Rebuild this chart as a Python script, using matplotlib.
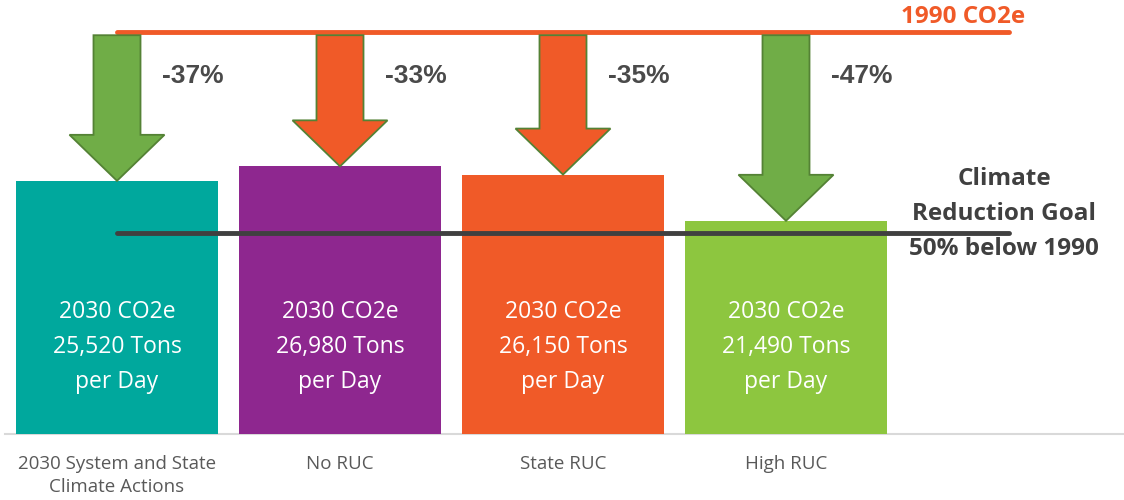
import matplotlib.pyplot as plt
from matplotlib.patches import Polygon

categories = ['2030 System and State\nClimate Actions', 'No RUC', 'State RUC', 'High RUC']
values = [25520, 26980, 26150, 21490]
bar_colors = ['#00A89D', '#8E278F', '#F05A28', '#8DC63F']
arrow_colors = ['#70AD47', '#F05A28', '#F05A28', '#70AD47']
base_1990 = 40500
goal = base_1990 * 0.5

fig = plt.figure(figsize=(11.24, 5), dpi=100)
ax = fig.add_axes([0, 0, 1, 1])
# 1 px in data units
px_x = 1 / 223
px_y = 100.8
ax.set_xlim(-117 * px_x, (1124 - 117) * px_x)
ax.set_ylim(-66 * px_y, 434 * px_y)
ax.axis('off')

x = list(range(len(categories)))
ax.bar(x, values, width=202 * px_x, color=bar_colors, zorder=2)

# baseline
ax.plot([-112 * px_x, 1124 * px_x], [0, 0], color='#d9d9d9', lw=1.5, zorder=1)

# 1990 line and goal line
ax.plot([0, 4], [base_1990, base_1990], color='#F05A28', lw=3.5, solid_capstyle='round', zorder=3)
ax.plot([0, 4], [goal, goal], color='#404040', lw=3.5, solid_capstyle='round', zorder=3)
ax.text(1025 * px_x - 117 * px_x, base_1990 + 15 * px_y, '1990 CO2e', color='#F05A28',
        fontsize=17.5, fontweight='bold', family='Open Sans', ha='right', va='center')
ax.text(1004 * px_x - 117 * px_x, goal + 19 * px_y, 'Climate\nReduction Goal\n50% below 1990',
        color='#404040', fontsize=17.5, fontweight='bold', family='Open Sans',
        ha='center', va='center', linespacing=1.6)

# arrows from 1990 level down to each bar
sw = 23.5 * px_x
hw = 47.5 * px_x
hl = 46 * px_y
for i, v in enumerate(values):
    top = base_1990 - 3 * px_y
    pts = [(i - sw, top), (i + sw, top), (i + sw, v + hl), (i + hw, v + hl),
           (i, v), (i - hw, v + hl), (i - sw, v + hl)]
    ax.add_patch(Polygon(pts, closed=True, facecolor=arrow_colors[i], edgecolor='#548235',
                         lw=1.3, zorder=4))
    pct = round((v - base_1990) / base_1990 * 100)
    ax.text(i + 76 * px_x, base_1990 - 44 * px_y, f'{pct}%', color='#4a4a4a',
            fontsize=19, fontweight='bold', family='Liberation Sans', ha='center', va='center')

# bar labels
for i, v in enumerate(values):
    ax.text(i, (434 - 347) * px_y, f'2030 CO2e\n{v:,} Tons\nper Day', color='white',
            fontsize=16.5, family='Open Sans', ha='center', va='center', linespacing=1.6, zorder=5)

# category labels
for i, c in enumerate(categories):
    ax.text(i, -21 * px_y, c, color='#595959', fontsize=13.5, family='Open Sans',
            ha='center', va='top', linespacing=1.35)

fig.savefig('out.png', dpi=100)
